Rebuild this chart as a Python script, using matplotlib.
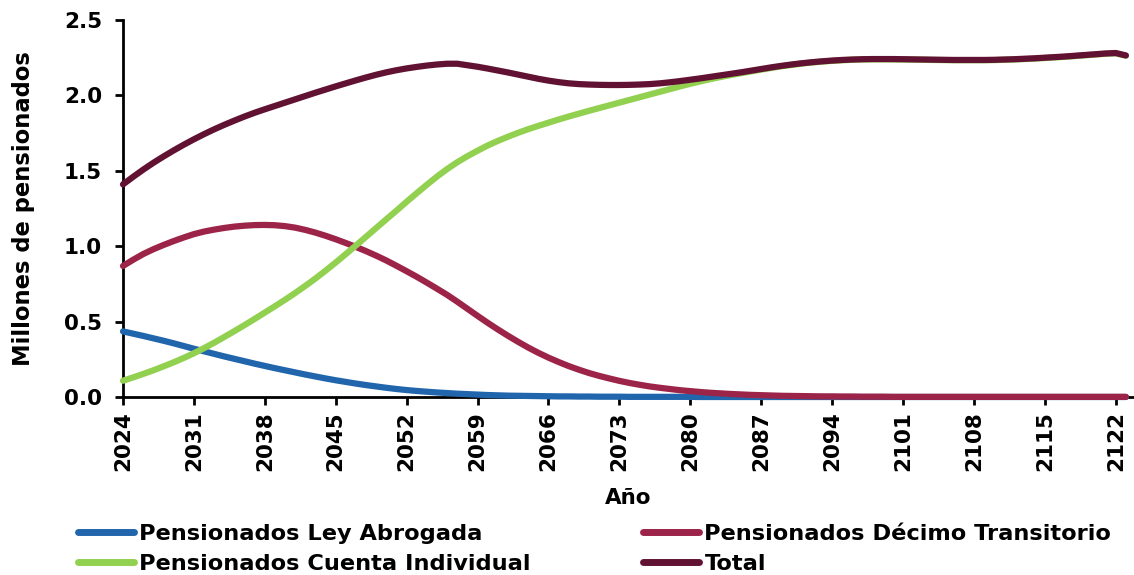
import matplotlib
matplotlib.use('Agg')
import matplotlib.pyplot as plt
import numpy as np

plt.rcParams['font.family'] = ['DejaVu Sans']
plt.rcParams['font.weight'] = 'bold'

# datos (millones de pensionados)
years = np.arange(2024, 2124)

ley_abrogada = [
    0.435, 0.420, 0.405, 0.389, 0.373, 0.356, 0.338, 0.320, 0.303, 0.286,
    0.269, 0.253, 0.237, 0.221, 0.206, 0.191, 0.177, 0.163, 0.149, 0.136,
    0.123, 0.111, 0.100, 0.089, 0.079, 0.070, 0.061, 0.053, 0.046, 0.040,
    0.035, 0.030, 0.026, 0.022, 0.019, 0.016, 0.013, 0.011, 0.009, 0.008,
    0.007, 0.006, 0.005, 0.004, 0.004, 0.003, 0.003, 0.002, 0.002, 0.002,
    0.001, 0.001, 0.001, 0.001, 0.001, 0.001, 0.001, 0.000, 0.000, 0.000,
    0.000, 0.000, 0.000, 0.000, 0.000, 0.000, 0.000, 0.000, 0.000, 0.000,
    0.000, 0.000, 0.000, 0.000, 0.000, 0.000, 0.000, 0.000, 0.000, 0.000,
    0.000, 0.000, 0.000, 0.000, 0.000, 0.000, 0.000, 0.000, 0.000, 0.000,
    0.000, 0.000, 0.000, 0.000, 0.000, 0.000, 0.000, 0.000, 0.000, 0.000,
]

decimo_transitorio = [
    0.869, 0.910, 0.948, 0.980, 1.008, 1.034, 1.058, 1.080, 1.097, 1.110,
    1.121, 1.130, 1.136, 1.140, 1.141, 1.139, 1.133, 1.123, 1.108, 1.090,
    1.069, 1.046, 1.021, 0.995, 0.967, 0.937, 0.905, 0.870, 0.834, 0.797,
    0.758, 0.718, 0.677, 0.632, 0.585, 0.538, 0.492, 0.448, 0.406, 0.366,
    0.328, 0.293, 0.261, 0.232, 0.205, 0.181, 0.159, 0.140, 0.123, 0.107,
    0.093, 0.081, 0.070, 0.061, 0.053, 0.045, 0.039, 0.033, 0.028, 0.024,
    0.020, 0.017, 0.014, 0.012, 0.010, 0.008, 0.007, 0.006, 0.005, 0.004,
    0.004, 0.003, 0.003, 0.002, 0.002, 0.002, 0.001, 0.001, 0.001, 0.001,
    0.001, 0.001, 0.001, 0.001, 0.001, 0.001, 0.001, 0.001, 0.001, 0.001,
    0.001, 0.001, 0.001, 0.001, 0.001, 0.001, 0.001, 0.001, 0.001, 0.001,
]

cuenta_individual = [
    0.108, 0.130, 0.153, 0.177, 0.203, 0.230, 0.259, 0.290, 0.324, 0.360,
    0.398, 0.437, 0.477, 0.518, 0.560, 0.602, 0.645, 0.690, 0.737, 0.786,
    0.838, 0.892, 0.948, 1.005, 1.063, 1.121, 1.179, 1.236, 1.295, 1.352,
    1.408, 1.462, 1.512, 1.557, 1.597, 1.633, 1.668, 1.698, 1.726, 1.752,
    1.776, 1.798, 1.819, 1.840, 1.860, 1.879, 1.898, 1.916, 1.934, 1.952,
    1.970, 1.988, 2.006, 2.024, 2.042, 2.060, 2.077, 2.093, 2.108, 2.122,
    2.135, 2.147, 2.159, 2.171, 2.182, 2.193, 2.202, 2.211, 2.218, 2.224,
    2.229, 2.233, 2.236, 2.238, 2.239, 2.239, 2.238, 2.238, 2.237, 2.236,
    2.235, 2.234, 2.233, 2.233, 2.233, 2.233, 2.234, 2.236, 2.238, 2.241,
    2.244, 2.248, 2.252, 2.256, 2.261, 2.266, 2.271, 2.276, 2.279, 2.263,
]

total = [
    1.410, 1.460, 1.508, 1.553, 1.595, 1.635, 1.673, 1.709, 1.743, 1.775,
    1.805, 1.833, 1.860, 1.885, 1.908, 1.930, 1.952, 1.974, 1.996, 2.018,
    2.039, 2.060, 2.080, 2.100, 2.119, 2.137, 2.153, 2.167, 2.179, 2.189,
    2.198, 2.205, 2.210, 2.210, 2.200, 2.190, 2.178, 2.165, 2.152, 2.138,
    2.124, 2.110, 2.098, 2.088, 2.080, 2.075, 2.072, 2.070, 2.069, 2.069,
    2.070, 2.072, 2.075, 2.080, 2.087, 2.095, 2.104, 2.113, 2.123, 2.133,
    2.143, 2.153, 2.164, 2.175, 2.186, 2.196, 2.205, 2.213, 2.220, 2.226,
    2.231, 2.235, 2.238, 2.240, 2.241, 2.241, 2.241, 2.240, 2.239, 2.238,
    2.237, 2.236, 2.235, 2.235, 2.235, 2.235, 2.236, 2.238, 2.240, 2.243,
    2.246, 2.250, 2.254, 2.258, 2.263, 2.268, 2.273, 2.278, 2.281, 2.265,
]

tick_years = np.arange(2024, 2123, 7)

series = [
    ('Pensionados Ley Abrogada', ley_abrogada, '#2166AC'),
    ('Pensionados Décimo Transitorio', decimo_transitorio, '#9D2449'),
    ('Pensionados Cuenta Individual', cuenta_individual, '#92D050'),
    ('Total', total, '#611232'),
]

fig = plt.figure(figsize=(11.34, 5.75), dpi=100)
ax = fig.add_axes([123 / 1134, 1 - 397 / 575, 1 - 123 / 1134, 377 / 575])

handles = {}
for name, vals, col in series:
    ln, = ax.plot(years, vals, color=col, lw=4.5, solid_capstyle='round',
                  solid_joinstyle='round', clip_on=False, zorder=3)
    handles[name] = ln

ax.set_xlim(2024, 2123.8)
ax.set_ylim(0, 2.5)
ax.set_yticks(np.arange(0, 2.51, 0.5))
ax.set_yticklabels(['%.1f' % v for v in np.arange(0, 2.51, 0.5)])
ax.set_xticks(tick_years)
ax.set_xticklabels([str(y) for y in tick_years], rotation=90)

for s in ['top', 'right']:
    ax.spines[s].set_visible(False)
for s in ['left', 'bottom']:
    ax.spines[s].set_linewidth(2)
    ax.spines[s].set_color('black')
ax.tick_params(axis='both', direction='out', length=6, width=2,
               labelsize=15.5, colors='black')
ax.tick_params(axis='y', pad=9)
ax.tick_params(axis='x', pad=4)

ax.set_ylabel('Millones de pensionados', fontsize=16.3, fontweight='bold', labelpad=21)
ax.set_xlabel('Año', fontsize=15.5, fontweight='bold', labelpad=12)

order = ['Pensionados Ley Abrogada', 'Pensionados Cuenta Individual',
         'Pensionados Décimo Transitorio', 'Total']
leg = fig.legend([handles[k] for k in order], order, ncol=2,
                 loc='upper left', bbox_to_anchor=(78 / 1134, 1 - 524 / 575),
                 frameon=False, fontsize=16.2, handlelength=2.5,
                 handletextpad=0.22, columnspacing=5.0, labelspacing=0.45,
                 borderpad=0, borderaxespad=0)
for ln in leg.get_lines():
    ln.set_linewidth(5)
    ln.set_solid_capstyle('round')

plt.savefig('out.png', dpi=100, facecolor='white')
plt.close()
